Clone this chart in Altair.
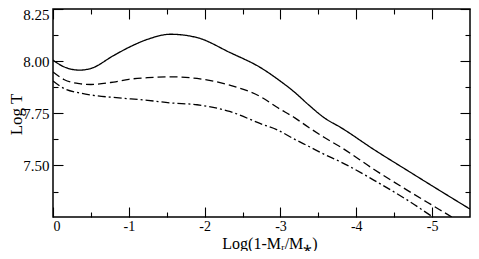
import altair as alt
import pandas as pd

# Data
x_vals = [0, -0.15, -0.35, -0.5, -0.8, -1.0, -1.25, -1.55, -1.9, -2.33, -2.76, -2.95,
          -3.19, -3.37, -3.58, -3.8, -4.23, -4.67, -5.1, -5.5]
solid = [8.005, 7.972, 7.957, 7.965, 8.027, 8.066, 8.105, 8.129, 8.113, 8.042, 7.964, 7.917,
         7.850, 7.791, 7.728, 7.681, 7.577, 7.477, 7.38, 7.291]
dashed = [7.948, 7.911, 7.892, 7.888, 7.900, 7.913, 7.921, 7.925, 7.917, 7.885, 7.825, 7.78,
          7.728, 7.683, 7.634, 7.587, 7.482, 7.382, 7.288, 7.2]
dashdot = [7.905, 7.868, 7.848, 7.838, 7.826, 7.820, 7.812, 7.80, 7.791, 7.759, 7.697, 7.672,
           7.625, 7.592, 7.553, 7.516, 7.43, 7.335, 7.232, 7.145]

series_names = ["solid", "dashed", "dashdot"]
x_major = [0, -1, -2, -3, -4, -5]
x_all = [0, -0.5, -1, -1.5, -2, -2.5, -3, -3.5, -4, -4.5, -5]
y_major = [7.5, 7.75, 8.0, 8.25]
y_all = [7.375, 7.5, 7.625, 7.75, 7.875, 8.0, 8.125, 8.25]

rows = []
for name, vals in zip(series_names, [solid, dashed, dashdot]):
    for xv, yv in zip(x_vals, vals):
        rows.append({"series": name, "x": xv, "y": yv})
df = pd.DataFrame(rows)

W, H = 417, 208
FONT = "Liberation Serif"

x_scale = alt.Scale(domain=[0, -5.5], nice=False, zero=False)
y_scale = alt.Scale(domain=[7.253, 8.25], nice=False, zero=False)

x_tick_size = {"condition": {"test": "datum.value % 1 === 0", "value": 10}, "value": 5}
y_tick_size = {"condition": {"test": "abs(datum.value*4 - round(datum.value*4)) < 0.001", "value": 10}, "value": 5}
y_label_offset = {"condition": {"test": "datum.value > 8.2", "value": 5}, "value": 0}

base = alt.Chart(df)

lines = base.mark_line(color="black", strokeWidth=1.3, clip=True, interpolate="monotone").encode(
    x=alt.X("x:Q", scale=x_scale,
            axis=alt.Axis(orient="bottom", values=x_major, ticks=False, tickSize=0, domain=False,
                          grid=False, labelPadding=2, labelFont=FONT, labelFontSize=14,
                          labelExpr="datum.value === 0 ? '0' : '-' + format(abs(datum.value), 'd')",
                          title="Log(1-Mᵣ/M⁎)", titleX=W / 2 + 8, titleY=31,
                          titleFont=FONT, titleFontSize=16,
                          titleBaseline="alphabetic", titleAlign="center")),
    y=alt.Y("y:Q", scale=y_scale,
            axis=alt.Axis(orient="left", values=y_major, ticks=False, tickSize=0, domain=False,
                          grid=False, format=".2f", labelPadding=4, labelOffset=y_label_offset,
                          labelFont=FONT, labelFontSize=15,
                          title="Log T", titleAngle=270, titleX=-32, titleY=105,
                          titleFont=FONT, titleFontSize=17,
                          titleAlign="center", titleBaseline="alphabetic")),
    strokeDash=alt.StrokeDash("series:N", scale=alt.Scale(domain=series_names,
                              range=[[1, 0], [8, 4], [8, 3, 2, 3]]), legend=None),
    order=alt.Order("x:Q", sort="descending"),
)

ticks_in = base.mark_point(opacity=0).encode(
    x=alt.X("x:Q", scale=x_scale,
            axis=alt.Axis(orient="top", offset=-H, values=x_all, labels=False, domain=False,
                          grid=False, title=None, tickSize=x_tick_size, tickColor="black")),
    y=alt.Y("y:Q", scale=y_scale,
            axis=alt.Axis(orient="right", offset=-W, values=y_all, labels=False, domain=False,
                          grid=False, title=None, tickSize=y_tick_size, tickColor="black")),
)

ticks_mirror = base.mark_point(opacity=0).encode(
    x=alt.X("x:Q", scale=x_scale,
            axis=alt.Axis(orient="bottom", offset=-H, values=x_all, labels=False, domain=False,
                          grid=False, title=None, tickSize=x_tick_size, tickColor="black")),
    y=alt.Y("y:Q", scale=y_scale,
            axis=alt.Axis(orient="left", offset=-W, values=y_all, labels=False, domain=False,
                          grid=False, title=None, tickSize=y_tick_size, tickColor="black")),
)

chart = alt.layer(lines, ticks_in, ticks_mirror).resolve_axis(
    x="independent", y="independent"
).properties(
    width=W, height=H,
    autosize=alt.AutoSizeParams(type="none"),
    padding={"left": 45, "top": 1, "right": 1, "bottom": 34},
).configure_view(
    stroke="black", strokeWidth=1.5
).configure_axis(
    labelFont=FONT, labelFontSize=15, labelColor="black",
    titleFont=FONT, titleFontSize=17, titleFontWeight="normal", titleColor="black",
    tickWidth=1.1,
)

chart.save("out.html", embed_options={"renderer": "svg", "actions": False})
